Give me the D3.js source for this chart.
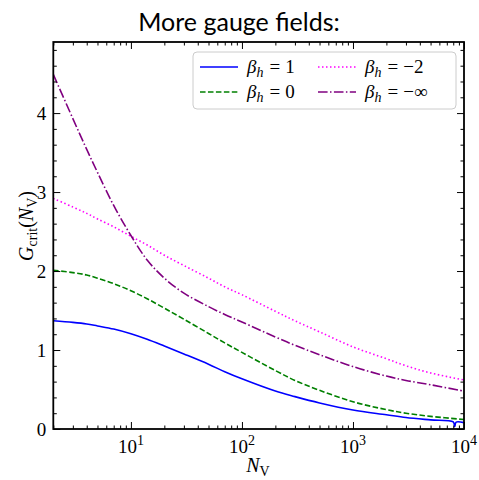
<!DOCTYPE html>
<html>
<head>
<meta charset="utf-8">
<script src="https://cdn.jsdelivr.net/npm/d3@7"></script>
<style>
  body { margin: 0; background: #fff; }
  svg { display: block; }
</style>
</head>
<body>
<svg id="chart" width="479" height="480"></svg>
<script>
// ---- data ----
const nBlue = [2, 3, 4, 5, 7, 10, 14, 20, 30, 50, 70, 100, 200, 300, 500, 1000, 2000, 3000, 5000, 8000, 8250, 8500, 10000];
const gBlue = [1.37, 1.35, 1.33, 1.305, 1.265, 1.205, 1.135, 1.05, 0.95, 0.82, 0.725, 0.635, 0.48, 0.41, 0.33, 0.24, 0.18, 0.145, 0.115, 0.09, 0.03, 0.088, 0.08];

const nGrid = [2, 3, 4, 5, 7, 10, 14, 20, 30, 50, 70, 100, 200, 300, 500, 1000, 2000, 3000, 5000, 10000];
const gGreen = [2.01, 1.98, 1.95, 1.91, 1.84, 1.75, 1.65, 1.53, 1.39, 1.21, 1.09, 0.97, 0.74, 0.615, 0.49, 0.345, 0.245, 0.20, 0.16, 0.12];
const gMagenta = [2.92, 2.81, 2.73, 2.66, 2.56, 2.44, 2.33, 2.20, 2.07, 1.91, 1.80, 1.70, 1.49, 1.37, 1.23, 1.04, 0.89, 0.80, 0.71, 0.62];
const gPurple = [4.49, 3.93, 3.54, 3.25, 2.83, 2.45, 2.14, 1.91, 1.72, 1.55, 1.45, 1.355, 1.165, 1.06, 0.94, 0.79, 0.67, 0.615, 0.56, 0.48];

const seriesLabels = ["1", "0", "\u22122", "\u2212\u221E"];
const seriesColors = ["#0000ff", "#008000", "#ff00ff", "#800080"];
const seriesDash = [null, "5.55,2.4", "1.5,2.5", "9.6,2.4,1.5,2.4"];

const xMajor = [10, 100, 1000, 10000];
const xMajorExp = ["1", "2", "3", "4"];
const yMajor = [0, 1, 2, 3, 4];

// ---- layout ----
const svg = d3.select("#chart");
const L = 53.3, R = 464, T = 42, B = 429;
const x = d3.scaleLog().domain([2, 10000]).range([L, R]);
const y = d3.scaleLinear().domain([0, 4.9]).range([B, T]);

const serif = "'Liberation Serif', 'DejaVu Serif', serif";

// minor ticks
const xMinor = [];
for (let d = 1; d <= 1000; d *= 10) for (let k = 2; k <= 9; k++) { const v = k * d; if (v >= 2 && v <= 10000) xMinor.push(v); }
const yMinor = d3.range(0, 4.9001, 0.2).map(v => +v.toFixed(1)).filter(v => Math.abs(v - Math.round(v)) > 1e-6);

const lineGen = d3.line().x(d => x(d[0])).y(d => y(d[1])).curve(d3.curveCatmullRom.alpha(0.5));
const plot = svg.append("g");
plot.append("clipPath").attr("id", "clip").append("rect").attr("x", L).attr("y", T).attr("width", R - L).attr("height", B - T);

const allSeries = [
  nBlue.map((n, i) => [n, gBlue[i]]),
  nGrid.map((n, i) => [n, gGreen[i]]),
  nGrid.map((n, i) => [n, gMagenta[i]]),
  nGrid.map((n, i) => [n, gPurple[i]])
];
allSeries.forEach((s, i) => {
  plot.append("path").datum(s)
    .attr("clip-path", "url(#clip)")
    .attr("d", lineGen)
    .attr("fill", "none")
    .attr("stroke", seriesColors[i])
    .attr("stroke-width", 1.6)
    .attr("stroke-dasharray", seriesDash[i]);
});

// axes (ticks inside, all four sides)
const major = 7, minor = 3.5;
function styleAxis(g) {
  g.select(".domain").remove();
  g.selectAll("line").attr("stroke", "#000").attr("stroke-width", 1);
  g.selectAll("text").remove();
}
svg.append("g").attr("transform", `translate(0,${B})`)
  .call(d3.axisBottom(x).tickValues(xMajor).tickSize(-major).tickFormat("")).call(styleAxis);
svg.append("g").attr("transform", `translate(0,${B})`)
  .call(d3.axisBottom(x).tickValues(xMinor).tickSize(-minor).tickFormat("")).call(styleAxis);
svg.append("g").attr("transform", `translate(0,${T})`)
  .call(d3.axisTop(x).tickValues(xMajor).tickSize(-major).tickFormat("")).call(styleAxis);
svg.append("g").attr("transform", `translate(0,${T})`)
  .call(d3.axisTop(x).tickValues(xMinor).tickSize(-minor).tickFormat("")).call(styleAxis);
svg.append("g").attr("transform", `translate(${L},0)`)
  .call(d3.axisLeft(y).tickValues(yMajor).tickSize(-major).tickFormat("")).call(styleAxis);
svg.append("g").attr("transform", `translate(${L},0)`)
  .call(d3.axisLeft(y).tickValues(yMinor).tickSize(-minor).tickFormat("")).call(styleAxis);
svg.append("g").attr("transform", `translate(${R},0)`)
  .call(d3.axisRight(y).tickValues(yMajor).tickSize(-major).tickFormat("")).call(styleAxis);
svg.append("g").attr("transform", `translate(${R},0)`)
  .call(d3.axisRight(y).tickValues(yMinor).tickSize(-minor).tickFormat("")).call(styleAxis);

// frame
svg.append("rect").attr("x", L).attr("y", T).attr("width", R - L).attr("height", B - T)
  .attr("fill", "none").attr("stroke", "#000").attr("stroke-width", 1.8);

// y tick labels
svg.append("g").selectAll("text").data(yMajor).join("text")
  .attr("x", L - 7).attr("y", d => y(d)).attr("dy", "0.36em")
  .attr("text-anchor", "end").attr("font-family", serif).attr("font-size", 19)
  .text(d => d);

// x tick labels 10^k
const xl = svg.append("g").selectAll("text").data(xMajor).join("text")
  .attr("x", d => x(d)).attr("y", 453)
  .attr("text-anchor", "middle").attr("font-family", serif).attr("font-size", 19);
xl.append("tspan").text("10");
xl.append("tspan").attr("dy", -8).attr("font-size", 14).text((d, i) => xMajorExp[i]);

// x label
const xlab = svg.append("text").attr("x", 258).attr("y", 472).attr("text-anchor", "middle")
  .attr("font-family", serif).attr("font-size", 20);
xlab.append("tspan").attr("font-style", "italic").text("N");
xlab.append("tspan").attr("dy", 4).attr("font-size", 14).text("V");

// y label
const ylab = svg.append("text").attr("transform", "translate(33,226) rotate(-90)").attr("text-anchor", "middle")
  .attr("font-family", serif).attr("font-size", 20);
ylab.append("tspan").attr("font-style", "italic").text("G");
ylab.append("tspan").attr("dy", 4).attr("font-size", 14).text("crit");
ylab.append("tspan").attr("dy", -4).text("(");
ylab.append("tspan").attr("font-style", "italic").text("N");
ylab.append("tspan").attr("dy", 4).attr("font-size", 14).text("V");
ylab.append("tspan").attr("dy", -4).text(")");

// title
svg.append("text").attr("x", 239).attr("y", 31).attr("text-anchor", "middle")
  .attr("font-family", "Lato, 'Open Sans', sans-serif").attr("font-size", 25)
  .text("More gauge fields:");

// legend
const lg = svg.append("g");
lg.append("rect").attr("x", 193).attr("y", 52).attr("width", 263).attr("height", 57).attr("rx", 4)
  .attr("fill", "#fff").attr("fill-opacity", 0.8).attr("stroke", "#cccccc").attr("stroke-width", 1);
const legPos = [[200, 67], [200, 92], [318, 67], [318, 92]];
seriesLabels.forEach((lab, i) => {
  const [lx, ly] = legPos[i];
  lg.append("line").attr("x1", lx).attr("x2", lx + 38).attr("y1", ly).attr("y2", ly)
    .attr("stroke", seriesColors[i]).attr("stroke-width", 1.6).attr("stroke-dasharray", seriesDash[i]);
  const t = lg.append("text").attr("x", lx + 47).attr("y", ly + 6)
    .attr("font-family", serif).attr("font-size", 19);
  t.append("tspan").attr("font-style", "italic").text("\u03B2");
  t.append("tspan").attr("dy", 4).attr("font-size", 14).attr("font-style", "italic").text("h");
  t.append("tspan").attr("dy", -4).attr("dx", 6).text("=");
  t.append("tspan").attr("dx", 5).text(lab);
});
</script>
</body>
</html>
